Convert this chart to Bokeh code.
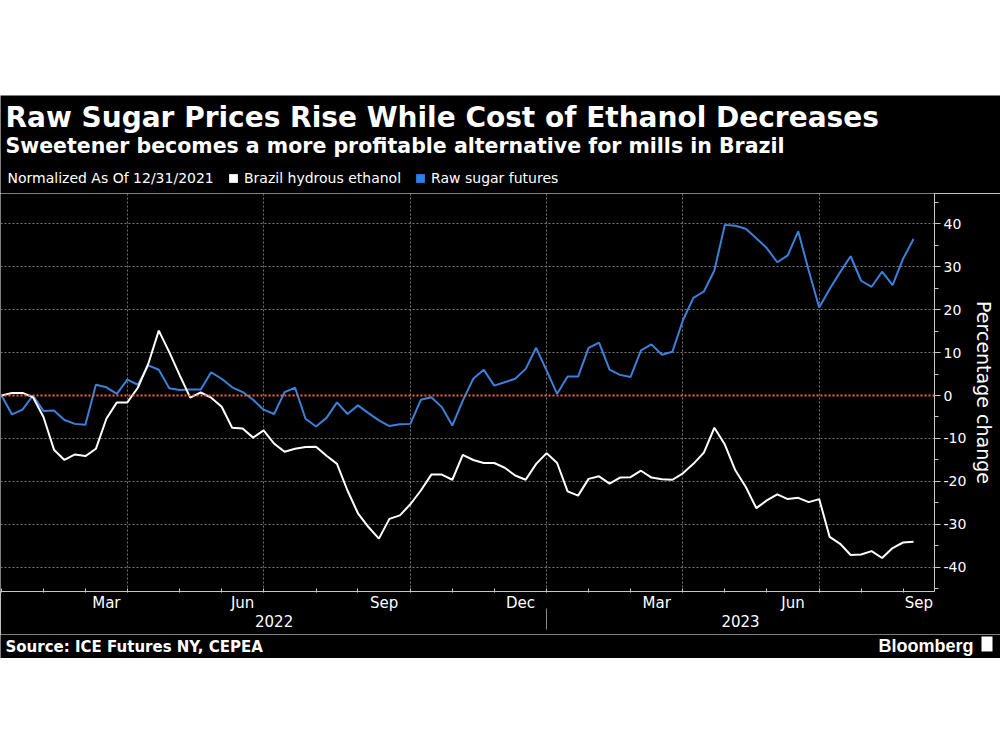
import pandas as pd
from bokeh.plotting import figure
from bokeh.models import (Range1d, LinearAxis, FixedTicker, Grid, Span,
                          Legend, LegendItem, ColumnDataSource, Spacer)
from bokeh.core.properties import value
from bokeh.layouts import column
from bokeh.embed import file_html
from bokeh.resources import INLINE

# ---------------- data: weekly % change, normalized as of 12/31/2021 ----------------
start_date = "2021-12-31"
ethanol = [0.0, 0.6, 0.6, -0.4, -5.0, -12.6, -15.0, -13.7, -14.1, -12.4,
           -5.4, -1.6, -1.6, 1.8, 7.4, 15.1, 10.1, 4.7, -0.5, 0.7,
           -0.5, -2.6, -7.5, -7.7, -9.8, -8.1, -11.2, -13.1, -12.4, -12.0,
           -11.9, -14.0, -15.9, -22.1, -27.4, -30.6, -33.3, -28.7, -27.9, -25.3,
           -22.1, -18.4, -18.4, -19.6, -13.8, -15.0, -15.7, -15.7, -16.8, -18.6,
           -19.6, -15.9, -13.4, -15.7, -22.3, -23.3, -19.4, -18.8, -20.5, -19.1,
           -19.0, -17.5, -19.1, -19.5, -19.6, -18.1, -15.9, -13.3, -7.5, -11.4,
           -17.4, -21.3, -26.2, -24.4, -23.0, -24.1, -23.8, -24.8, -24.1, -32.9,
           -34.5, -37.1, -37.0, -36.2, -37.8, -35.5, -34.2, -34.0]
sugar = [0.0, -4.4, -3.3, 0.0, -3.6, -3.5, -5.7, -6.6, -6.8, 2.5,
         1.9, 0.4, 3.7, 2.5, 7.0, 6.0, 1.7, 1.3, 1.4, 1.4,
         5.4, 3.9, 1.9, 0.8, -1.0, -3.3, -4.3, 0.8, 1.8, -5.4,
         -7.2, -5.2, -1.6, -4.3, -2.3, -4.1, -5.8, -7.1, -6.7, -6.6,
         -1.0, -0.4, -2.7, -7.0, -1.2, 3.9, 6.0, 2.3, 3.1, 3.9,
         6.2, 11.1, 5.8, 0.4, 4.4, 4.4, 11.1, 12.3, 6.0, 4.8,
         4.3, 10.5, 11.9, 9.5, 10.2, 17.5, 22.7, 24.2, 29.1, 39.7,
         39.5, 38.8, 36.6, 34.3, 31.0, 32.6, 38.2, 29.1, 20.5, 24.8,
         28.7, 32.4, 26.7, 25.3, 28.8, 25.7, 31.8, 36.4]
y_ticks = [-40, -30, -20, -10, 0, 10, 20, 30, 40]
y_minor = [-45, -35, -25, -15, -5, 5, 15, 25, 35, 45]
month_names = {3: "Mar", 6: "Jun", 9: "Sep", 12: "Dec"}
series_names = ["Brazil hydrous ethanol", "Raw sugar futures"]
title = "Raw Sugar Prices Rise While Cost of Ethanol Decreases"
subtitle = "Sweetener becomes a more profitable alternative for mills in Brazil"
note = "Normalized As Of 12/31/2021"
source = "Source: ICE Futures NY, CEPEA"
brand = "Bloomberg"

dates = pd.date_range(start_date, periods=len(ethanol), freq="7D")
week = list(range(len(dates)))
X_END = 89

# month boundaries = last weekly point of each month
bounds = [i for i in range(len(dates) - 1) if dates[i + 1].month != dates[i].month]
edges = bounds + [X_END]
label_pos = {}
for k, b in enumerate(bounds):
    m = dates[b + 1].month
    if m in month_names:
        label_pos[(edges[k] + edges[k + 1]) / 2] = month_names[m]
quarters = [b for b in bounds if b > 0 and dates[b + 1].month in (1, 4, 7, 10)]
ybounds = [i for i in range(len(dates) - 1) if dates[i + 1].year != dates[i].year]
yedges = ybounds + [X_END]
year_pos = {}
for k, b in enumerate(ybounds):
    year_pos[(yedges[k] + yedges[k + 1]) / 2] = str(dates[b + 1].year)
year_dividers = [b for b in ybounds if b > 0]

src = ColumnDataSource(dict(week=week, ethanol=ethanol, sugar=sugar))

FONT = "DejaVu Sans"
AX = "#c8c8c8"
BLUE = "#3d80da"
W = 1000

# ---------------- header (title, subtitle, legend) ----------------
hdr = figure(width=W, height=98, output_backend="svg", toolbar_location=None,
             x_range=Range1d(0, W), y_range=Range1d(98, 0),
             x_axis_type=None, y_axis_type=None, min_border=0,
             background_fill_color="black", border_fill_color="black",
             outline_line_color=None)
hdr.text(x=[5], y=[21.5], text=[title], text_color="white", text_font=value(FONT),
         text_font_size="28px", text_font_style="bold", text_baseline="middle")
hdr.text(x=[5], y=[50], text=[subtitle], text_color="white", text_font=value(FONT),
         text_font_size="20.5px", text_font_style="bold", text_baseline="middle")
hdr.text(x=[7], y=[82.5], text=[note], text_color="white", text_font=value(FONT),
         text_font_size="14px", text_baseline="middle")
# swatch renderers for the legend (single point placed outside the visible range)
sq_e = hdr.scatter(x=[-1000], y=[-1000], marker="square", fill_color="white", line_color=None)
sq_s = hdr.scatter(x=[-1000], y=[-1000], marker="square", fill_color="#2f7fe8", line_color=None)
legend = Legend(items=[LegendItem(label=series_names[0], renderers=[sq_e]),
                       LegendItem(label=series_names[1], renderers=[sq_s])],
                orientation="horizontal", location=(222, 4),
                glyph_width=22, glyph_height=22, label_height=22, label_standoff=-7,
                spacing=8, padding=0, margin=0,
                background_fill_alpha=0, border_line_color=None,
                label_text_color="white", label_text_font=FONT,
                label_text_font_size="14px")
hdr.add_layout(legend, "center")

# ---------------- main chart ----------------
p = figure(width=W, height=441, output_backend="svg", toolbar_location=None,
           x_range=Range1d(-0.1, X_END), y_range=Range1d(-45.6, 47.0),
           x_axis_type=None, y_axis_type=None,
           min_border_left=0, min_border_right=66, min_border_top=0, min_border_bottom=43,
           background_fill_color="black", border_fill_color="black",
           outline_line_color=None)

p.add_layout(Grid(dimension=0, ticker=FixedTicker(ticks=quarters),
                  grid_line_color="#777777", grid_line_dash="2 2", grid_line_width=1))
p.add_layout(Grid(dimension=1, ticker=FixedTicker(ticks=[t for t in y_ticks if t != 0]),
                  grid_line_color="#777777", grid_line_dash="2 2", grid_line_width=1))
p.add_layout(Span(location=0, dimension="width", line_color="#f0683a",
                  line_dash="2 2", line_width=2))

p.line("week", "sugar", source=src, line_color=BLUE, line_width=2)
p.line("week", "ethanol", source=src, line_color="white", line_width=2)

# month axis
xaxis = LinearAxis(ticker=FixedTicker(ticks=list(label_pos.keys()), minor_ticks=bounds),
                   major_label_overrides=label_pos,
                   major_tick_in=0, major_tick_out=0, major_tick_line_color=None,
                   minor_tick_in=3, minor_tick_out=1, minor_tick_line_color=AX,
                   axis_line_color=AX, major_label_standoff=1,
                   major_label_text_color="white", major_label_text_font=FONT,
                   major_label_text_font_size="15px")
p.add_layout(xaxis, "below")

# year axis
yearaxis = LinearAxis(ticker=FixedTicker(ticks=list(year_pos.keys())),
                      major_label_overrides=year_pos,
                      major_tick_in=0, major_tick_out=0, major_tick_line_color=None,
                      minor_tick_line_color=None, axis_line_color=None,
                      major_label_standoff=0,
                      major_label_text_color="white", major_label_text_font=FONT,
                      major_label_text_font_size="15px")
p.add_layout(yearaxis, "below")

# year divider (tick pointing up from below the year labels)
divaxis = LinearAxis(ticker=FixedTicker(ticks=[], minor_ticks=year_dividers),
                     major_tick_line_color=None, major_tick_out=0, major_tick_in=0,
                     major_label_standoff=0, major_label_text_font_size="0px",
                     minor_tick_in=21, minor_tick_out=0, minor_tick_line_color="#8a8a8a",
                     axis_line_color=None)
p.add_layout(divaxis, "below")

# right y axis
yaxis = LinearAxis(ticker=FixedTicker(ticks=y_ticks, minor_ticks=y_minor),
                   major_label_overrides={t: str(t) for t in y_ticks},
                   axis_label="Percentage change",
                   major_tick_in=0, major_tick_out=6, minor_tick_in=0, minor_tick_out=4,
                   major_tick_line_color=AX, minor_tick_line_color=AX, axis_line_color=AX,
                   major_label_standoff=3,
                   major_label_text_color="white", major_label_text_font=FONT,
                   major_label_text_font_size="14px",
                   axis_label_text_color="white", axis_label_text_font=FONT,
                   axis_label_text_font_size="19px", axis_label_text_font_style="normal",
                   axis_label_standoff=4)
p.add_layout(yaxis, "right")

# ---------------- footer ----------------
FH = 24
ftr = figure(width=W, height=FH, output_backend="svg", toolbar_location=None,
             x_range=Range1d(0, W), y_range=Range1d(FH, 0),
             x_axis_type=None, y_axis_type=None, min_border=0,
             background_fill_color="black", border_fill_color="black",
             outline_line_color=None)
ftr.text(x=[5], y=[12.5], text=[source], text_color="white", text_font=value(FONT),
         text_font_size="15px", text_font_style="bold", text_baseline="middle")
ftr.text(x=[973], y=[11.5], text=[brand], text_color="white",
         text_font=value("Liberation Sans"), text_font_size="18px",
         text_font_style="bold", text_baseline="middle", text_align="right")
ftr.quad(left=[981], right=[992], top=[2], bottom=[17], fill_color="white", line_color=None)

# separate roots: each figure keeps its own full-width frame
top = column(Spacer(width=W, height=95), hdr)
open("out.html", "w").write(file_html([top, p, ftr], INLINE))
